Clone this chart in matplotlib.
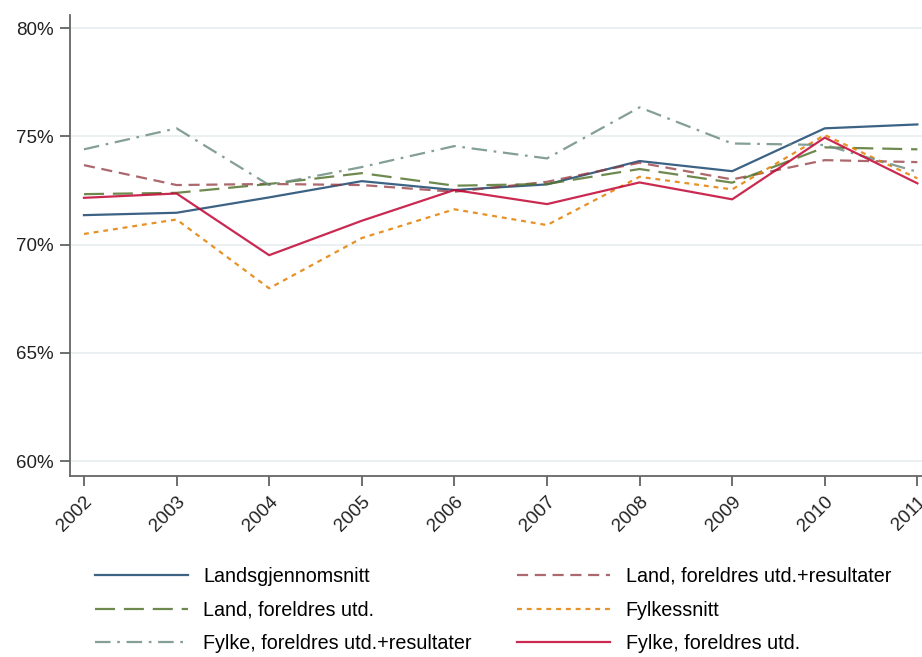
import matplotlib.pyplot as plt
from matplotlib.ticker import FuncFormatter

years = [2002, 2003, 2004, 2005, 2006, 2007, 2008, 2009, 2010, 2011]

landsgjennomsnitt = [71.36, 71.47, 72.18, 72.93, 72.52, 72.78, 73.86, 73.39, 75.37, 75.55]
land_utd_res = [73.67, 72.75, 72.8, 72.75, 72.44, 72.9, 73.78, 73.01, 73.9, 73.81]
land_utd = [72.33, 72.39, 72.8, 73.3, 72.72, 72.8, 73.49, 72.86, 74.49, 74.4]
fylkessnitt = [70.49, 71.16, 67.98, 70.3, 71.63, 70.9, 73.13, 72.55, 75.06, 73.06]
fylke_utd_res = [74.4, 75.37, 72.75, 73.58, 74.55, 73.98, 76.34, 74.67, 74.6, 73.36]
fylke_utd = [72.16, 72.36, 69.51, 71.1, 72.52, 71.87, 72.87, 72.09, 74.94, 72.83]

labels = ["Landsgjennomsnitt", "Land, foreldres utd.+resultater",
          "Land, foreldres utd.", "Fylkessnitt",
          "Fylke, foreldres utd.+resultater", "Fylke, foreldres utd."]

plt.rcParams['font.family'] = ['Liberation Sans', 'DejaVu Sans']

fig = plt.figure(figsize=(9.22, 6.57), dpi=100)
ax = fig.add_axes([0.076, 0.2755, 0.924, 0.7015])

lw = 1.6
ax.plot(years, landsgjennomsnitt, color="#1a476f", lw=lw, alpha=0.85, label=labels[0])
ax.plot(years, land_utd_res, color="#90353b", lw=lw, alpha=0.75, dashes=(5, 3), label=labels[1])
ax.plot(years, land_utd, color="#55752f", lw=lw, alpha=0.85, dashes=(9, 4), label=labels[2])
ax.plot(years, fylkessnitt, color="#e37e00", lw=lw, alpha=0.85, dashes=(2.2, 2.2), label=labels[3])
ax.plot(years, fylke_utd_res, color="#6e8e84", lw=lw, alpha=0.85, dashes=(7, 3, 1.2, 3), label=labels[4])
ax.plot(years, fylke_utd, color="#c10534", lw=lw, alpha=0.85, label=labels[5])

ax.set_xlim(2001.85, 2011.05)
ax.set_ylim(59.31, 80.6)
ax.set_yticks([60, 65, 70, 75, 80])
ax.yaxis.set_major_formatter(FuncFormatter(lambda v, p: f"{v:.0f}%"))
ax.set_xticks(years)
ax.set_xticklabels([str(y) for y in years], rotation=45, ha="right", rotation_mode="anchor")
ax.grid(axis="y", color="#e6eef0", lw=1.2)
ax.set_axisbelow(True)

for s in ["top", "right"]:
    ax.spines[s].set_visible(False)
for s in ["left", "bottom"]:
    ax.spines[s].set_color("#666666")
    ax.spines[s].set_linewidth(1.3)
ax.tick_params(colors="#555555", labelcolor="#222222", labelsize=13.5,
               length=7.5, width=1.2, pad=4)
ax.tick_params(axis="x", pad=5)

handles, labs = ax.get_legend_handles_labels()
order = [0, 2, 4, 1, 3, 5]
fig.legend([handles[i] for i in order], [labs[i] for i in order],
           loc="upper left", bbox_to_anchor=(0.0944, 0.149), ncol=2, frameon=False,
           fontsize=14.2, handlelength=4.7, handletextpad=0.8, columnspacing=2.3,
           labelspacing=0.74, borderaxespad=0)

fig.savefig("out.png", dpi=100)
